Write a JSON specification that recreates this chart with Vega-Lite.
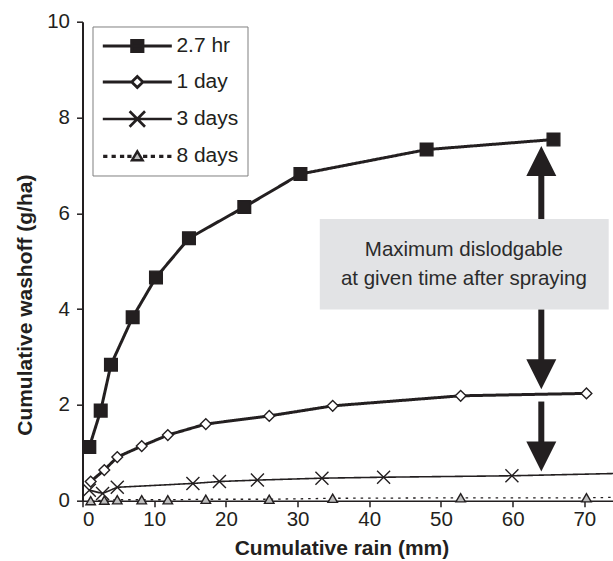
{
  "$schema": "https://vega.github.io/schema/vega-lite/v6.json",
  "autosize": {"type": "none"},
  "padding": {"left": 82.5, "top": 21.7, "right": 0, "bottom": 60},
  "width": 530.5,
  "height": 479,
  "background": "white",
  "config": {"view": {"stroke": null}, "font": "Liberation Sans"},
  "datasets": {
    "series": [
      {"series": "2.7 hr", "rain": 0.95, "washoff": 1.12},
      {"series": "2.7 hr", "rain": 2.54, "washoff": 1.88},
      {"series": "2.7 hr", "rain": 3.97, "washoff": 2.84},
      {"series": "2.7 hr", "rain": 7.0, "washoff": 3.83},
      {"series": "2.7 hr", "rain": 10.25, "washoff": 4.66},
      {"series": "2.7 hr", "rain": 14.85, "washoff": 5.48},
      {"series": "2.7 hr", "rain": 22.57, "washoff": 6.13},
      {"series": "2.7 hr", "rain": 30.4, "washoff": 6.82},
      {"series": "2.7 hr", "rain": 48.0, "washoff": 7.33},
      {"series": "2.7 hr", "rain": 65.7, "washoff": 7.54},
      {"series": "1 day", "rain": 1.14, "washoff": 0.4},
      {"series": "1 day", "rain": 3.04, "washoff": 0.64},
      {"series": "1 day", "rain": 4.85, "washoff": 0.91},
      {"series": "1 day", "rain": 8.26, "washoff": 1.14},
      {"series": "1 day", "rain": 11.9, "washoff": 1.37},
      {"series": "1 day", "rain": 17.2, "washoff": 1.6},
      {"series": "1 day", "rain": 26.05, "washoff": 1.77},
      {"series": "1 day", "rain": 34.9, "washoff": 1.98},
      {"series": "1 day", "rain": 52.75, "washoff": 2.19},
      {"series": "1 day", "rain": 70.3, "washoff": 2.24},
      {"series": "3 days", "rain": 0.95, "washoff": 0.22},
      {"series": "3 days", "rain": 2.8, "washoff": 0.15},
      {"series": "3 days", "rain": 4.85, "washoff": 0.28},
      {"series": "3 days", "rain": 15.4, "washoff": 0.36},
      {"series": "3 days", "rain": 19.1, "washoff": 0.4},
      {"series": "3 days", "rain": 24.4, "washoff": 0.43},
      {"series": "3 days", "rain": 33.4, "washoff": 0.47},
      {"series": "3 days", "rain": 42.0, "washoff": 0.49},
      {"series": "3 days", "rain": 59.9, "washoff": 0.52},
      {"series": "3 days", "rain": 78.0, "washoff": 0.58},
      {"series": "8 days", "rain": 1.14, "washoff": 0.0},
      {"series": "8 days", "rain": 3.04, "washoff": 0.01},
      {"series": "8 days", "rain": 4.85, "washoff": 0.02},
      {"series": "8 days", "rain": 8.26, "washoff": 0.02},
      {"series": "8 days", "rain": 11.9, "washoff": 0.02},
      {"series": "8 days", "rain": 17.2, "washoff": 0.03},
      {"series": "8 days", "rain": 26.05, "washoff": 0.03},
      {"series": "8 days", "rain": 34.9, "washoff": 0.05},
      {"series": "8 days", "rain": 52.75, "washoff": 0.06},
      {"series": "8 days", "rain": 70.3, "washoff": 0.06},
      {"series": "8 days", "rain": 78.0, "washoff": 0.08}
    ],
    "box": [{"x1": 33.1, "x2": 73.4, "y1": 3.99, "y2": 5.88}],
    "shafts": [
      {"x": 64.0, "y1": 5.88, "y2": 6.85},
      {"x": 64.0, "y1": 3.99, "y2": 2.9},
      {"x": 64.0, "y1": 2.07, "y2": 1.2}
    ],
    "headsUp": [{"x": 64.0, "y": 7.09}],
    "headsDown": [{"x": 64.0, "y": 2.64}, {"x": 64.0, "y": 0.92}],
    "notes": [
      {"x": 53.2, "y": 5.23, "text": "Maximum dislodgable"},
      {"x": 53.2, "y": 4.63, "text": "at given time after spraying"}
    ]
  },
  "layer": [
    {
      "data": {"name": "series"},
      "mark": {"type": "line", "color": "#231f20"},
      "encoding": {
        "x": {"field": "rain", "type": "quantitative", "scale": {"domain": [0, 74], "nice": false},
          "axis": {"values": [0, 10, 20, 30, 40, 50, 60, 70], "title": "Cumulative rain (mm)", "grid": false,
            "labelFont": "Liberation Sans", "labelFontSize": 20.5, "labelColor": "#231f20", "labelPadding": 3,
            "tickColor": "#231f20", "tickSize": 6, "tickWidth": 1.5, "domainColor": "#231f20", "domainWidth": 1.5,
            "titleFont": "Liberation Sans", "titleFontSize": 21, "titleFontWeight": "bold", "titleColor": "#231f20", "titlePadding": 7, "titleX": 259}},
        "y": {"field": "washoff", "type": "quantitative", "scale": {"domain": [0, 10], "nice": false},
          "axis": {"values": [0, 2, 4, 6, 8, 10], "title": "Cumulative washoff (g/ha)", "grid": false,
            "labelFont": "Liberation Sans", "labelFontSize": 20.5, "labelColor": "#231f20", "labelPadding": 7,
            "tickColor": "#231f20", "tickSize": 6, "tickWidth": 1.5, "domainColor": "#231f20", "domainWidth": 2,
            "titleFont": "Liberation Sans", "titleFontSize": 21, "titleFontWeight": "bold", "titleColor": "#231f20", "titlePadding": 11, "titleY": 283}},
        "detail": {"field": "series"},
        "strokeWidth": {"condition": [
          {"test": "datum.series === '3 days'", "value": 1.6},
          {"test": "datum.series === '8 days'", "value": 1.3}], "value": 3},
        "strokeDash": {"condition": {"test": "datum.series === '8 days'", "value": [2.5, 5]}, "value": [1, 0]}
      }
    },
    {
      "data": {"name": "series"},
      "mark": {"type": "point", "filled": false, "opacity": 1, "strokeWidth": 1.4, "stroke": "#231f20"},
      "encoding": {
        "x": {"field": "rain", "type": "quantitative"},
        "y": {"field": "washoff", "type": "quantitative"},
        "shape": {"condition": [
          {"test": "datum.series === '2.7 hr'", "value": "square"},
          {"test": "datum.series === '1 day'", "value": "diamond"},
          {"test": "datum.series === '3 days'", "value": "M-1,-1L1,1M-1,1L1,-1"}], "value": "triangle-up"},
        "fill": {"condition": [
          {"test": "datum.series === '2.7 hr'", "value": "#231f20"},
          {"test": "datum.series === '1 day'", "value": "#ffffff"},
          {"test": "datum.series === '8 days'", "value": "#bdbdbd"}], "value": "transparent"},
        "size": {"condition": [
          {"test": "datum.series === '2.7 hr'", "value": 160},
          {"test": "datum.series === '1 day'", "value": 115},
          {"test": "datum.series === '3 days'", "value": 169}], "value": 90}
      }
    },
    {
      "data": {"name": "series"},
      "mark": {"type": "point", "filled": false, "opacity": 0, "size": 196},
      "encoding": {
        "x": {"field": "rain", "type": "quantitative"},
        "y": {"field": "washoff", "type": "quantitative"},
        "shape": {"field": "series", "type": "nominal",
          "scale": {"domain": ["2.7 hr", "1 day", "3 days", "8 days"], "range": [
            "M-4.93,0L4.93,0M-0.8,-0.8L0.8,-0.8L0.8,0.8L-0.8,0.8Z",
            "M-4.93,0L-0.8,0M0.8,0L4.93,0M0,-0.8L0.8,0L0,0.8L-0.8,0Z",
            "M-4.93,0L4.93,0M-1.1,-1.1L1.1,1.1M-1.1,1.1L1.1,-1.1",
            "M0,-0.65L0.75,0.6L-0.75,0.6ZM-4.7,0h0.25v0.12h-0.25ZM-3.5,0h0.25v0.12h-0.25ZM-2.3,0h0.25v0.12h-0.25ZM-1.25,0h0.25v0.12h-0.25ZM1.0,0h0.25v0.12h-0.25ZM2.1,0h0.25v0.12h-0.25ZM3.3,0h0.25v0.12h-0.25ZM4.45,0h0.25v0.12h-0.25Z"]},
          "legend": {
            "title": null, "orient": "none", "legendX": 10, "legendY": 4.8,
            "labelFont": "Liberation Sans", "labelFontSize": 21, "labelColor": "#231f20",
            "symbolSize": 196, "symbolOpacity": 1, "symbolOffset": 25.3, "labelOffset": 28.6,
            "padding": 9, "rowPadding": 12, "strokeColor": "#808080", "fillColor": "white"
          }},
        "fill": {"field": "series", "type": "nominal",
          "scale": {"domain": ["2.7 hr", "1 day", "3 days", "8 days"], "range": ["#231f20", "#ffffff", "transparent", "#bdbdbd"]}},
        "stroke": {"field": "series", "type": "nominal",
          "scale": {"domain": ["2.7 hr", "1 day", "3 days", "8 days"], "range": ["#231f20", "#231f20", "#231f20", "#231f20"]}},
        "strokeWidth": {"field": "series", "type": "nominal",
          "scale": {"domain": ["2.7 hr", "1 day", "3 days", "8 days"], "range": [3, 2.5, 1.5, 1]}}
      }
    },
    {
      "data": {"name": "box"},
      "mark": {"type": "rect", "fill": "#e2e3e5"},
      "encoding": {
        "x": {"field": "x1", "type": "quantitative"},
        "x2": {"field": "x2"},
        "y": {"field": "y1", "type": "quantitative"},
        "y2": {"field": "y2"}
      }
    },
    {
      "data": {"name": "shafts"},
      "mark": {"type": "rule", "color": "#231f20", "strokeWidth": 6},
      "encoding": {
        "x": {"field": "x", "type": "quantitative"},
        "y": {"field": "y1", "type": "quantitative"},
        "y2": {"field": "y2"}
      }
    },
    {
      "data": {"name": "headsUp"},
      "mark": {"type": "point", "shape": "M-1,1L1,1L0,-1Z", "size": 900, "filled": true, "color": "#231f20", "opacity": 1},
      "encoding": {
        "x": {"field": "x", "type": "quantitative"},
        "y": {"field": "y", "type": "quantitative"}
      }
    },
    {
      "data": {"name": "headsDown"},
      "mark": {"type": "point", "shape": "M-1,-1L1,-1L0,1Z", "size": 900, "filled": true, "color": "#231f20", "opacity": 1},
      "encoding": {
        "x": {"field": "x", "type": "quantitative"},
        "y": {"field": "y", "type": "quantitative"}
      }
    },
    {
      "data": {"name": "notes"},
      "mark": {"type": "text", "font": "Liberation Sans", "fontSize": 20.5, "color": "#2b2b2b", "align": "center", "baseline": "middle"},
      "encoding": {
        "x": {"field": "x", "type": "quantitative"},
        "y": {"field": "y", "type": "quantitative"},
        "text": {"field": "text"}
      }
    },
    {
      "mark": {"type": "rule", "color": "#231f20", "strokeWidth": 1.5},
      "encoding": {"y": {"datum": 10}}
    }
  ]
}
